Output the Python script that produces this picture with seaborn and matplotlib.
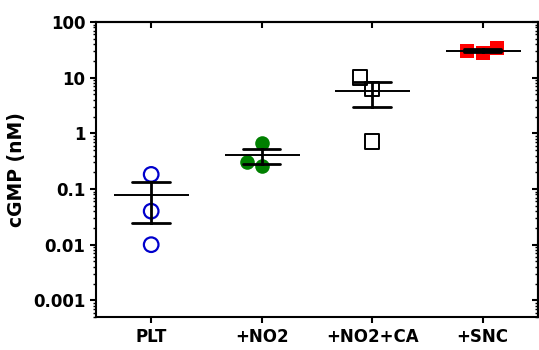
import numpy as np
import pandas as pd
import seaborn as sns
import matplotlib.pyplot as plt
from matplotlib.ticker import FuncFormatter, LogLocator, NullFormatter

# values
groups = ['PLT', '+NO2', '+NO2+CA', '+SNC']
plt_vals = [0.183, 0.040, 0.010]
no2_vals = [0.255, 0.66, 0.30]
no2ca_vals = [10.2, 6.3, 0.72]
snc_vals = [33.8, 27.5, 29.8]

df = pd.DataFrame({
    'group': np.repeat(groups, 3),
    'cgmp': plt_vals + no2_vals + no2ca_vals + snc_vals,
})

sns.set_style('ticks')
plt.rcParams['font.family'] = ['DejaVu Sans']
plt.rcParams['font.weight'] = 'bold'
plt.rcParams['axes.labelweight'] = 'bold'
for k in ['text.color', 'axes.labelcolor', 'xtick.color', 'ytick.color', 'axes.edgecolor']:
    plt.rcParams[k] = 'black'

fig = plt.figure(figsize=(5.39, 3.5), dpi=100)
ax = fig.add_axes([0.178, 0.094, 0.82, 0.843])

# mean +/- SEM, computed while the axis is still linear (arithmetic mean)
sns.pointplot(data=df, x='group', y='cgmp', order=groups, errorbar='se',
              capsize=0.34, linestyle='none', marker='_', markersize=54,
              markeredgewidth=1.4, color='black',
              err_kws={'linewidth': 2.0}, ax=ax)

ax.set_yscale('log')
ax.set_ylim(5e-4, 100)

# individual points
styles = {
    'PLT': dict(marker='o', color='#0000CC', facecolor='none', edgecolor='#0000CC', linewidth=1.6),
    '+NO2': dict(marker='o', color='#008000', edgecolor='#008000', linewidth=0),
    '+NO2+CA': dict(marker='s', color='black', facecolor='none', edgecolor='black', linewidth=1.4),
    '+SNC': dict(marker='s', color='#FF0000', edgecolor='#FF0000', linewidth=0),
}
for g in groups:
    sns.swarmplot(data=df[df['group'] == g], x='group', y='cgmp', order=groups,
                  size=10.5, ax=ax, zorder=1, **styles[g])

ax.set_xlim(-0.5, 3.5)
ax.set_ylim(5e-4, 100)
ax.set_yticks([0.001, 0.01, 0.1, 1, 10, 100])
ax.yaxis.set_major_formatter(FuncFormatter(lambda v, p: f'{v:g}'))
ax.yaxis.set_minor_locator(LogLocator(base=10, subs=np.arange(2, 10)))
ax.yaxis.set_minor_formatter(NullFormatter())
ax.set_xlabel('')
ax.set_ylabel('cGMP (nM)', fontsize=13.5, fontweight='bold', labelpad=5)

for s in ax.spines.values():
    s.set_visible(True)
    s.set_linewidth(1.5)
ax.tick_params(axis='both', which='major', direction='out', length=4, width=1.5,
               labelsize=12, colors='black')
ax.tick_params(axis='y', which='minor', direction='out', length=2.5, width=1)
for lab in ax.get_xticklabels() + ax.get_yticklabels():
    lab.set_fontweight('bold')

# mirrored inward ticks on top and right
top = ax.secondary_xaxis('top')
top.set_xticks(range(len(groups)))
top.tick_params(direction='in', length=4, width=1.5, labeltop=False)
top.spines['top'].set_linewidth(1.5)
right = ax.secondary_yaxis('right')
right.set_yticks([0.001, 0.01, 0.1, 1, 10, 100])
right.yaxis.set_minor_locator(LogLocator(base=10, subs=np.arange(2, 10)))
right.yaxis.set_minor_formatter(NullFormatter())
right.tick_params(which='major', direction='in', length=4, width=1.5, labelright=False)
right.tick_params(which='minor', direction='in', length=2.5, width=1)
right.spines['right'].set_linewidth(1.5)

fig.savefig('out.png', dpi=100)
